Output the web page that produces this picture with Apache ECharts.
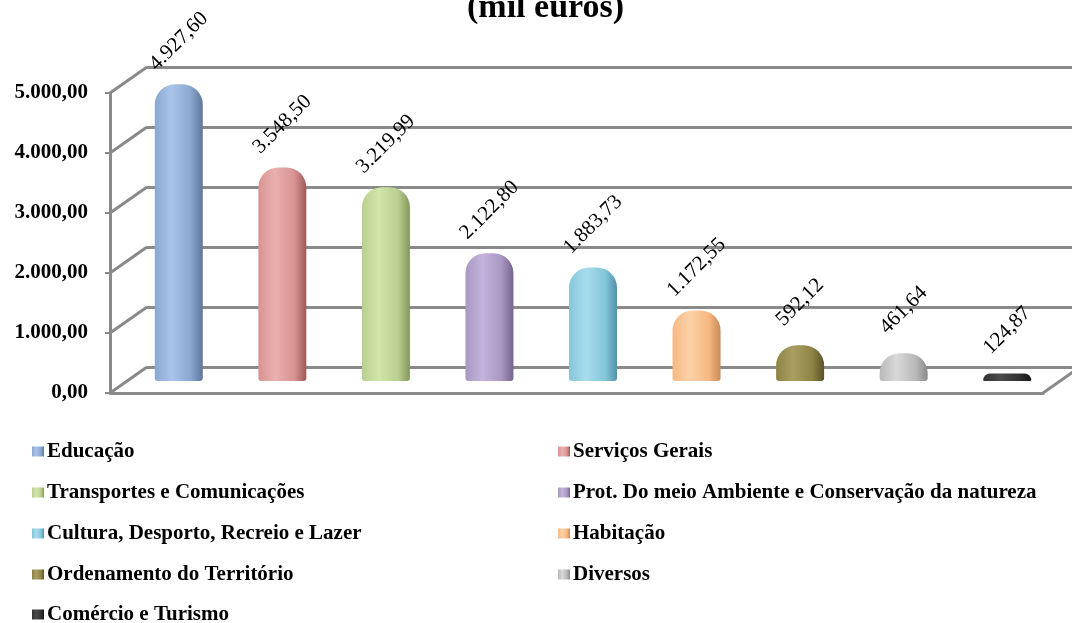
<!DOCTYPE html>
<html><head><meta charset="utf-8">
<script src="https://cdn.jsdelivr.net/npm/echarts@6/dist/echarts.min.js"></script>
<style>html,body{margin:0;padding:0;background:#fff}#c{width:1072px;height:623px}</style>
</head><body><div id="c"></div>
<script>
const categories = ['Educação','Serviços Gerais','Transportes e Comunicações','Prot. Do meio Ambiente e Conservação da natureza','Cultura, Desporto, Recreio e Lazer','Habitação','Ordenamento do Território','Diversos','Comércio e Turismo'];
const values = [4927.60, 3548.50, 3219.99, 2122.80, 1883.73, 1172.55, 592.12, 461.64, 124.87];
const yTicks = [0, 1000, 2000, 3000, 4000, 5000];
const leftLegend = ['Educação','Transportes e Comunicações','Cultura, Desporto, Recreio e Lazer','Ordenamento do Território'];
const lastLegend = ['Comércio e Turismo'];
const rightLegend = ['Serviços Gerais','Prot. Do meio Ambiente e Conservação da natureza','Habitação','Diversos'];
const palette = [
  ['#8aa7cf','#a9c4e8','#5e7699'],
  ['#d99391','#eab0ae','#9c5957'],
  ['#b9cf8f','#d2e5aa','#84965a'],
  ['#a997c2','#c3b4da','#75648f'],
  ['#85c6da','#a8dcec','#4f93a9'],
  ['#f6b983','#fdd1a8','#c98a56'],
  ['#8e8446','#a99e60','#5b5227'],
  ['#b8b8b8','#d9d9d9','#8a8a8a'],
  ['#333333','#4a4a4a','#161616']
];
const SERIF = '"Liberation Serif", "DejaVu Serif", serif';
function fmt(v){ const p = v.toFixed(2).split('.'); return p[0].replace(/\B(?=(\d{3})+(?!\d))/g,'.') + ',' + p[1]; }

const chart = echarts.init(document.getElementById('c'));
const grey = '#8a8a8a';

const barSeries = categories.map((name, i) => ({
  name: name,
  type: 'bar',
  stack: 'all',
  xAxisIndex: 2, yAxisIndex: 2,
  barWidth: 48,
  data: values.map((v, j) => j === i ? v : '-'),
  itemStyle: {
    borderRadius: [20, 20, 3, 3],
    color: new echarts.graphic.LinearGradient(0, 0, 1, 0, [
      {offset: 0, color: palette[i][0]},
      {offset: 0.35, color: palette[i][1]},
      {offset: 0.75, color: palette[i][0]},
      {offset: 1, color: palette[i][2]}
    ])
  },
  label: {
    show: true, position: 'top', distance: 43, rotate: 45,
    align: 'center', verticalAlign: 'middle',
    fontFamily: SERIF, fontSize: 21, color: '#000',
    formatter: p => fmt(p.value)
  }
}));

const legendText = {fontFamily: SERIF, fontWeight: 'bold', fontSize: 21, color: '#000', padding: [0,0,0,-2]};
const legendBase = {orient: 'vertical', itemGap: 20, itemWidth: 12, itemHeight: 10, icon: 'rect', textStyle: legendText};

const option = {
  backgroundColor: '#fff',
  animation: false,
  title: {
    text: '(mil euros)', left: 462, top: -14,
    textStyle: {fontFamily: SERIF, fontWeight: 'bold', fontSize: 34, color: '#000'}
  },
  grid: [
    {left: 147, right: -20, top: 67, height: 300},
    {left: 110, top: 93, height: 300, width: 933},
    {left: 127, right: 13, top: 80, height: 301}
  ],
  xAxis: [
    {gridIndex: 0, type: 'category', data: categories, show: false},
    {gridIndex: 1, type: 'category', data: categories, axisLine: {show: true, lineStyle: {color: grey, width: 3}}, axisTick: {show: false}, axisLabel: {show: false}},
    {gridIndex: 2, type: 'category', data: categories, show: false}
  ],
  yAxis: [
    {gridIndex: 0, type: 'value', min: 0, max: 5000, interval: 1000, axisLine: {show: false}, axisTick: {show: false}, axisLabel: {show: false},
     splitLine: {show: true, lineStyle: {color: grey, width: 3}}},
    {gridIndex: 1, type: 'value', min: 0, max: 5000, interval: 1000,
     axisLine: {show: true, lineStyle: {color: grey, width: 3}},
     axisTick: {show: true, length: 5, lineStyle: {color: grey, width: 2}},
     splitLine: {show: false},
     axisLabel: {margin: 22, fontFamily: SERIF, fontWeight: 'bold', fontSize: 21, color: '#000', formatter: v => fmt(v)}},
    {gridIndex: 2, type: 'value', min: 0, max: 5000, show: false, splitLine: {show: false}}
  ],
  legend: [
    Object.assign({left: 27, top: 436, data: leftLegend}, legendBase),
    Object.assign({left: 27, top: 599, data: lastLegend}, legendBase),
    Object.assign({left: 553, top: 436, data: rightLegend}, legendBase)
  ],
  series: [
    {
      type: 'custom', xAxisIndex: 1, yAxisIndex: 1, silent: true, z: 1,
      data: yTicks.map(v => [0, v]),
      renderItem: function (params, api) {
        const cs = params.coordSys;
        const y = api.coord([0, api.value(1)])[1];
        const children = [{
          type: 'line', shape: {x1: cs.x, y1: y, x2: cs.x + 37, y2: y - 26},
          style: {stroke: grey, lineWidth: 3}
        }];
        if (api.value(1) === 0) {
          children.push({type: 'line', shape: {x1: cs.x + cs.width, y1: y, x2: cs.x + cs.width + 37, y2: y - 26}, style: {stroke: grey, lineWidth: 3}});
        }
        return {type: 'group', children: children};
      }
    }
  ].concat(barSeries)
};
chart.setOption(option);
</script>
</body></html>
